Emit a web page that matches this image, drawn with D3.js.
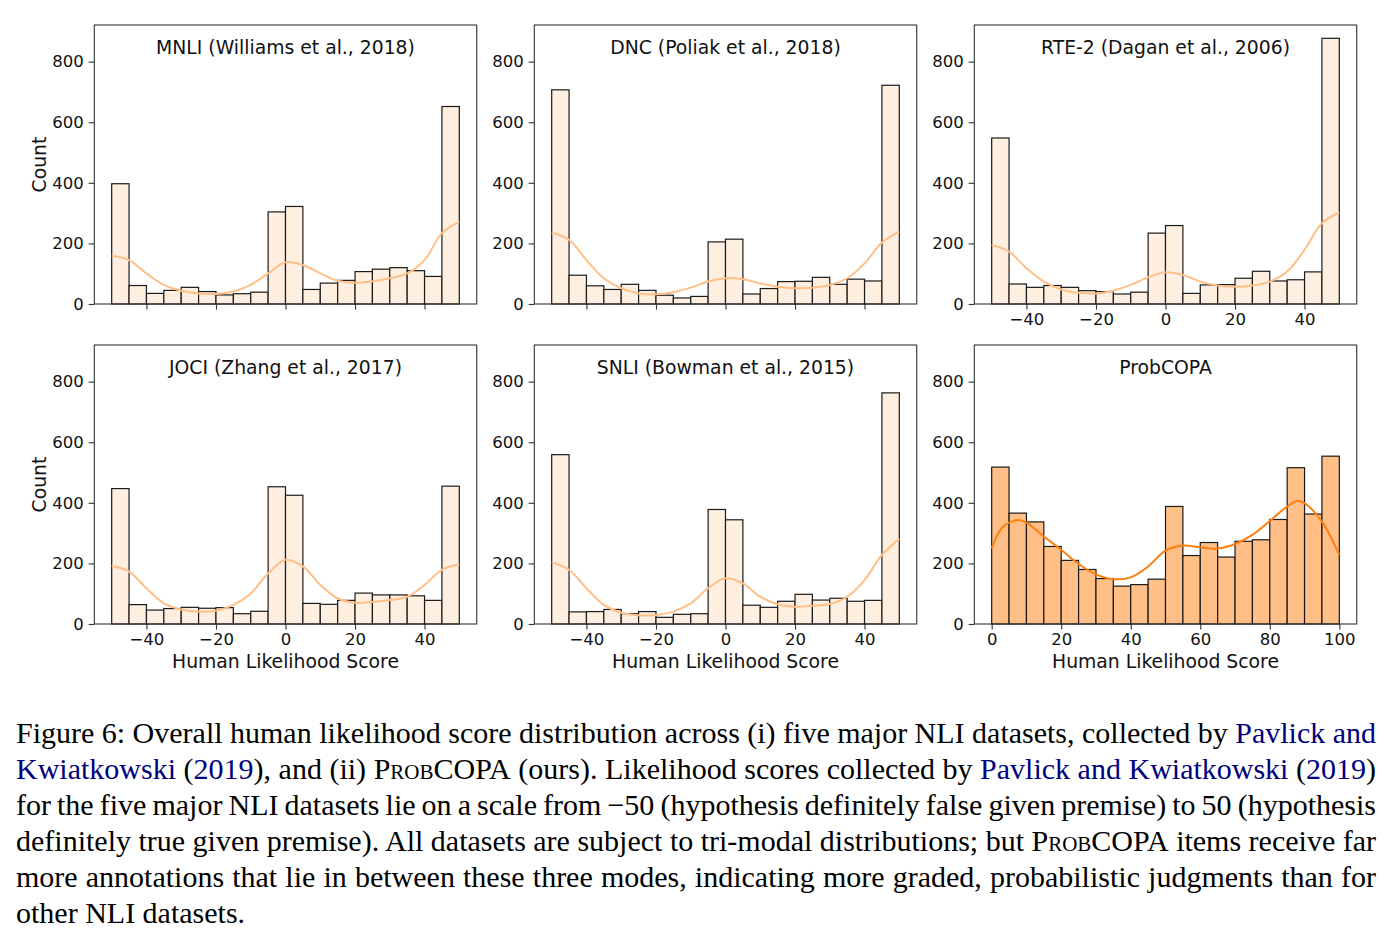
<!DOCTYPE html>
<html>
<head>
<meta charset="utf-8">
<script src="https://cdn.jsdelivr.net/npm/d3@7"></script>
<style>
  body { margin: 0; background: #fff; }
  svg text { font-family: "DejaVu Sans", sans-serif; }
  .caption text { font-family: "Liberation Serif", "Times New Roman", serif; }
</style>
</head>
<body>
<div id="chart"></div>
<script>
// panel titles
const titles = ["MNLI (Williams et al., 2018)", "DNC (Poliak et al., 2018)", "RTE-2 (Dagan et al., 2006)",
                "JOCI (Zhang et al., 2017)", "SNLI (Bowman et al., 2015)", "ProbCOPA"];

// counts per bin (20 bins of width 5)
const mnliCounts = [397, 61, 35, 45, 55, 41, 30, 34, 39, 304, 322, 48, 69, 78, 107, 115, 120, 110, 91, 652];
const dncCounts  = [707, 95, 60, 48, 65, 45, 29, 20, 25, 205, 214, 33, 51, 74, 75, 88, 65, 82, 76, 722];
const rteCounts  = [548, 66, 55, 61, 55, 44, 41, 33, 39, 234, 259, 35, 63, 64, 85, 108, 76, 80, 106, 877];
const jociCounts = [447, 64, 46, 51, 55, 52, 54, 34, 42, 453, 425, 68, 65, 78, 102, 96, 96, 93, 78, 455];
const snliCounts = [559, 40, 41, 48, 34, 41, 22, 32, 34, 378, 344, 62, 55, 75, 98, 79, 85, 75, 78, 763];
const copaCounts = [518, 366, 337, 256, 210, 180, 150, 125, 130, 148, 388, 226, 269, 221, 273, 278, 345, 516, 363, 554];

// density curves as drawn (in count units)
const nliKdeX = [-50, -45, -40, -35, -30, -25, -20, -15, -10, -5, 0, 5, 10, 15, 20, 25, 30, 35, 40, 45, 50];
const mnliKde = [159, 145, 101, 63, 44, 35, 33, 41, 63, 101, 138, 129, 101, 77, 70, 75, 85, 101, 145, 234, 271];
const dncKde  = [236, 212, 145, 85, 52, 35, 32, 39, 54, 74, 85, 82, 68, 57, 52, 54, 63, 85, 134, 203, 239];
const rteKde  = [195, 173, 118, 74, 48, 37, 35, 44, 63, 88, 105, 96, 74, 61, 57, 61, 74, 107, 179, 267, 302];
const jociKde = [192, 173, 118, 68, 48, 41, 44, 63, 101, 167, 212, 190, 129, 85, 70, 73, 79, 90, 129, 179, 197];
const snliKde = [204, 179, 118, 63, 37, 29, 30, 41, 68, 118, 151, 134, 90, 65, 57, 60, 66, 90, 145, 228, 281];
const copaKdeX = [0, 3, 7.5, 10, 15, 20, 25, 30, 35, 40, 45, 50, 55, 60, 65, 70, 75, 80, 85, 88, 90, 95, 100];
const copaKde  = [250, 318, 343, 335, 289, 245, 198, 164, 148, 154, 190, 242, 259, 253, 249, 264, 294, 340, 388, 406, 399, 338, 228];

const nliTicks = [-40, -20, 0, 20, 40];
const copaTicks = [0, 20, 40, 60, 80, 100];
const yTicks = [0, 200, 400, 600, 800];

const panels = [
  { title: titles[0], counts: mnliCounts, kx: nliKdeX, ky: mnliKde, dom: [-50, 50], ticks: nliTicks, xLabels: false, col: 0, row: 0 },
  { title: titles[1], counts: dncCounts,  kx: nliKdeX, ky: dncKde,  dom: [-50, 50], ticks: nliTicks, xLabels: false, col: 1, row: 0 },
  { title: titles[2], counts: rteCounts,  kx: nliKdeX, ky: rteKde,  dom: [-50, 50], ticks: nliTicks, xLabels: true,  col: 2, row: 0 },
  { title: titles[3], counts: jociCounts, kx: nliKdeX, ky: jociKde, dom: [-50, 50], ticks: nliTicks, xLabels: true,  col: 0, row: 1 },
  { title: titles[4], counts: snliCounts, kx: nliKdeX, ky: snliKde, dom: [-50, 50], ticks: nliTicks, xLabels: true,  col: 1, row: 1 },
  { title: titles[5], counts: copaCounts, kx: copaKdeX, ky: copaKde, dom: [0, 100], ticks: copaTicks, xLabels: true, col: 2, row: 1, strong: true }
];

// caption lines: segments [text, style]  (b = link blue, sc = small caps)
const captionLines = [
  [["Figure 6: Overall human likelihood score distribution across (i) five major NLI datasets, collected by "], ["Pavlick and", "b"]],
  [["Kwiatkowski", "b"], [" ("], ["2019", "b"], ["), and (ii) "], ["ProbCOPA", "sc"], [" (ours). Likelihood scores collected by "], ["Pavlick and Kwiatkowski", "b"], [" ("], ["2019", "b"], [")"]],
  [["for the five major NLI datasets lie on a scale from \u221250 (hypothesis definitely false given premise) to 50 (hypothesis"]],
  [["definitely true given premise). All datasets are subject to tri-modal distributions; but "], ["ProbCOPA", "sc"], [" items receive far"]],
  [["more annotations that lie in between these three modes, indicating more graded, probabilistic judgments than for"]],
  [["other NLI datasets."]]
];

const W = 1394, H = 945;
const colLeft = [94.3, 534.3, 974.3], panelW = 382.4;
const rowTop = [25, 345], panelH = 279;

const svg = d3.select("#chart").append("svg")
    .attr("width", W).attr("height", H);

const y = d3.scaleLinear().domain([0, 921]).range([panelH, 0]);

panels.forEach(p => {
    const g = svg.append("g").attr("transform", `translate(${colLeft[p.col]},${rowTop[p.row]})`);
    const span = p.dom[1] - p.dom[0];
    const x = d3.scaleLinear().domain([p.dom[0] - span * 0.05, p.dom[1] + span * 0.05]).range([0, panelW]);
    const binW = span / p.counts.length;

    const lineColor = p.strong ? "#ff7f0e" : "#ffbf86";
    const fillColor = p.strong ? "#ffbf86" : "#ffefe1";

    // bars
    g.selectAll("rect.bar")
        .data(p.counts)
        .enter().append("rect")
        .attr("class", "bar")
        .attr("x", (d, i) => x(p.dom[0] + i * binW))
        .attr("width", (d, i) => x(p.dom[0] + (i + 1) * binW) - x(p.dom[0] + i * binW))
        .attr("y", d => y(d))
        .attr("height", d => y(0) - y(d))
        .attr("fill", fillColor)
        .attr("stroke", "#1a1a1a")
        .attr("stroke-width", 1.2);

    // density line
    const line = d3.line()
        .x(d => x(d[0]))
        .y(d => y(d[1]))
        .curve(d3.curveCatmullRom.alpha(0.5));
    g.append("path")
        .datum(p.kx.map((v, i) => [v, p.ky[i]]))
        .attr("d", line)
        .attr("fill", "none")
        .attr("stroke", lineColor)
        .attr("stroke-width", 2);

    // axes
    const yAxis = d3.axisLeft(y).tickValues(yTicks).tickSize(5.6).tickPadding(5);
    const ya = g.append("g").call(yAxis);
    const xAxis = d3.axisBottom(x).tickValues(p.ticks).tickSize(5.6).tickPadding(4)
        .tickFormat(p.xLabels ? (d => d < 0 ? "\u2212" + Math.abs(d) : d) : "");
    const xa = g.append("g").attr("transform", `translate(0,${panelH})`).call(xAxis);
    [ya, xa].forEach(a => {
        a.select(".domain").remove();
        a.selectAll("line").attr("stroke", "#333").attr("stroke-width", 1.1);
        a.selectAll("text").attr("font-size", 16.5).attr("fill", "#111")
            .style("font-family", "DejaVu Sans, sans-serif");
    });

    // frame
    g.append("rect")
        .attr("width", panelW).attr("height", panelH)
        .attr("fill", "none").attr("stroke", "#333").attr("stroke-width", 1.1);

    g.append("text")
        .attr("x", panelW / 2).attr("y", 29)
        .attr("text-anchor", "middle")
        .attr("font-size", 18.8)
        .attr("fill", "#111")
        .text(p.title);

    if (p.col === 0) {
        g.append("text")
            .attr("transform", `translate(${39 - colLeft[0]},${panelH / 2}) rotate(-90)`)
            .attr("text-anchor", "middle")
            .attr("dy", "0.35em")
            .attr("font-size", 18.8)
            .attr("fill", "#111")
            .text("Count");
    }
    if (p.row === 1) {
        g.append("text")
            .attr("x", panelW / 2).attr("y", panelH + 44)
            .attr("text-anchor", "middle")
            .attr("font-size", 18.8)
            .attr("fill", "#111")
            .text("Human Likelihood Score");
    }
});

// caption, justified by word spacing
const cap = svg.append("g").attr("class", "caption");
const capLeft = 16, capRight = 1376;
captionLines.forEach((segs, li) => {
    const t = cap.append("text")
        .attr("x", capLeft)
        .attr("y", 743 + li * 36)
        .attr("font-size", 30)
        .attr("fill", "#000");
    segs.forEach(s => {
        const ts = t.append("tspan").text(s[0]);
        if (s[1] === "b") ts.attr("fill", "#00007f");
        if (s[1] === "sc") ts.style("font-variant", "small-caps");
    });
    if (li < captionLines.length - 1) {
        const natural = t.node().getComputedTextLength();
        const spaces = segs.map(s => s[0]).join("").split(" ").length - 1;
        t.attr("word-spacing", (capRight - capLeft - natural) / spaces);
    }
});
</script>
</body>
</html>
